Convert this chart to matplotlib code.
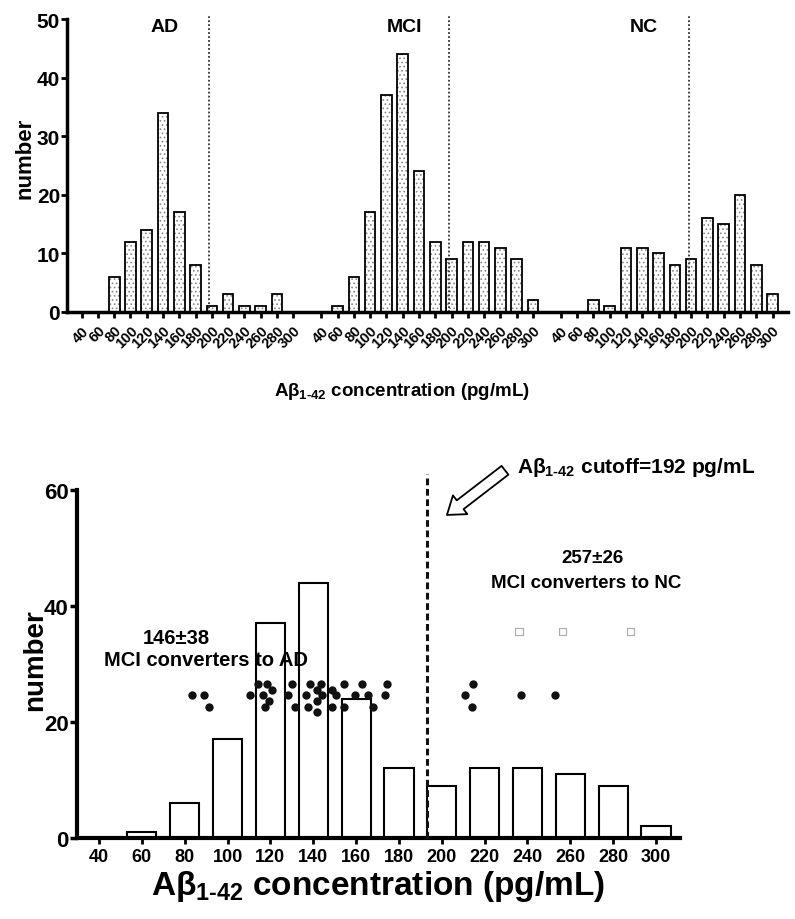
import matplotlib.pyplot as plt
import numpy as np

plt.rcParams.update({
    'font.family': ['Liberation Sans', 'DejaVu Sans'],
    'font.weight': 'bold',
    'mathtext.fontset': 'custom',
    'mathtext.rm': 'Liberation Sans:bold',
    'mathtext.bf': 'Liberation Sans:bold',
    'mathtext.it': 'Liberation Sans:bold',
    'hatch.linewidth': 0.7,
})
narrow = ['Liberation Sans Narrow', 'Liberation Sans', 'DejaVu Sans']

# Abeta 1-42 bins (pg/mL)
conc = [40, 60, 80, 100, 120, 140, 160, 180, 200, 220, 240, 260, 280, 300]
groups = ['AD', 'MCI', 'NC']
ad_counts = [0, 0, 6, 12, 14, 34, 17, 8, 1, 3, 1, 1, 3, 0]
mci_counts = [0, 1, 6, 17, 37, 44, 24, 12, 9, 12, 12, 11, 9, 2]
nc_counts = [0, 0, 2, 1, 11, 11, 10, 8, 9, 16, 15, 20, 8, 3]
top_cutoff = 197
cutoff = 193

# MCI converters to AD (filled dots) and to NC (open squares)
to_ad_x = [83.3, 89.0, 91.5, 110.5, 114.3, 118.3, 116.4, 120.6, 119.5, 117.5,
           129.9, 128.3, 131.5, 138.5, 143.5, 136.6, 141.6, 143.9, 141.6, 137.4,
           141.6, 148.6, 150.6, 148.6, 154.5, 162.6, 159.5, 165.7, 154.5, 167.7,
           174.5, 173.5, 214.7, 210.8, 213.9, 237.0, 252.8]
to_ad_y = [24.7, 24.7, 22.6, 24.7, 26.6, 26.6, 24.7, 25.6, 23.6, 22.6,
           26.6, 24.7, 22.6, 26.6, 26.6, 24.7, 25.6, 24.7, 23.6, 22.6,
           21.7, 25.6, 24.7, 22.6, 26.6, 26.6, 24.7, 24.7, 22.6, 22.6,
           26.6, 24.7, 26.6, 24.7, 22.6, 24.7, 24.7]
to_nc_x = [236.0, 256.2, 288.1]
to_nc_y = [35.6, 35.6, 35.6]

W, H = 795, 920
fig = plt.figure(figsize=(W / 100, H / 100), dpi=100)


def frac(x0, y0, x1, y1):
    return [x0 / W, 1 - y1 / H, (x1 - x0) / W, (y1 - y0) / H]


# ---------------- top panel ----------------
ax1 = fig.add_axes(frac(67, 20, 788, 313))
step = 14.72
slots = np.arange(len(conc))
all_x, all_lab = [], []
for g, (name, counts) in enumerate(zip(groups, [ad_counts, mci_counts, nc_counts])):
    x = g * step + slots
    ax1.bar(x, counts, 0.65, color='white', hatch='....', edgecolor='#8a8a8a', linewidth=0)
    ax1.bar(x, counts, 0.65, fill=False, edgecolor='black', linewidth=1.3)
    ax1.vlines(g * step + (top_cutoff - 40) / 20, 0, 50.6, colors='#333333',
               linestyles=(0, (1, 1.2)), linewidth=1.3, clip_on=False)
    ax1.text(g * step + 5.1, 48.8, name, ha='center', va='center', fontsize=14)
    all_x.extend(x)
    all_lab.extend(str(c) for c in conc)

ax1.set_xlim(-0.9, 2 * step + 13.95)
ax1.set_ylim(0, 50)
ax1.set_xticks(all_x)
ax1.set_xticklabels(all_lab, rotation=45, ha='right', va='top', rotation_mode='anchor', fontsize=10.5)
ax1.set_yticks([0, 10, 20, 30, 40, 50])
ax1.tick_params(axis='y', labelsize=15, length=4, width=2, pad=1)
ax1.tick_params(axis='x', length=4, width=2, pad=4)
for s in ['top', 'right']:
    ax1.spines[s].set_visible(False)
for s in ['left', 'bottom']:
    ax1.spines[s].set_linewidth(2.5)
fig.text(25 / W, 1 - 158 / H, 'number', rotation=90, ha='center', va='center', fontsize=16)
fig.text(402 / W, 1 - 392 / H, r'A$\beta_{1\text{-}42}$ concentration (pg/mL)',
         ha='center', va='center', fontsize=13.5)

# ---------------- bottom panel ----------------
ax2 = fig.add_axes(frac(77, 491, 680, 839))
ax2.bar(conc, mci_counts, 13.6, color='white', edgecolor='black', linewidth=1.5, zorder=2)
ax2.scatter(to_ad_x, to_ad_y, s=36, color='#111111', zorder=3, linewidths=0)
ax2.scatter(to_nc_x, to_nc_y, s=28, marker='s', facecolor='none', edgecolor='#b0b0b0',
            linewidths=0.9, zorder=3)
ax2.vlines(cutoff, 0, 62.8, colors='#111111', linestyles=(0, (2.2, 1.2)), linewidth=2.2,
           clip_on=False, zorder=4)

ax2.set_xlim(29.7, 311.2)
ax2.set_ylim(0, 60)
ax2.set_xticks(conc)
ax2.set_xticklabels([str(c) for c in conc], fontsize=13, family=narrow)
ax2.set_yticks([0, 20, 40, 60])
ax2.tick_params(axis='y', labelsize=16, length=5, width=2.5, pad=1)
ax2.tick_params(axis='x', length=4, width=2, pad=3)
for s in ['top', 'right']:
    ax2.spines[s].set_visible(False)
for s in ['left', 'bottom']:
    ax2.spines[s].set_linewidth(3)

ax2.text(75.9, 34.5, '146±38', ha='center', va='center', fontsize=14.5)
ax2.text(89.9, 30.7, 'MCI converters to AD', ha='center', va='center', fontsize=14.5)
ax2.text(270.5, 48.4, '257±26', ha='center', va='center', fontsize=13.5)
ax2.text(267.3, 44.1, 'MCI converters to NC', ha='center', va='center', fontsize=13.5)
ax2.text(235.1, 64.0, r'A$\beta_{1\text{-}42}$ cutoff=192 pg/mL', ha='left', va='center',
         fontsize=15, clip_on=False)
ax2.annotate('', xy=(202.4, 55.7), xytext=(229.5, 63.4), annotation_clip=False,
             arrowprops=dict(arrowstyle='simple,head_width=0.85,head_length=0.6,tail_width=0.4',
                             fc='white', ec='black', lw=1.3, shrinkA=0, shrinkB=0,
                             mutation_scale=20))

fig.text(35 / W, 1 - 660 / H, 'number', rotation=90, ha='center', va='center', fontsize=20)
fig.text(378 / W, 1 - 887 / H, r'A$\beta_{1\text{-}42}$ concentration (pg/mL)',
         ha='center', va='center', fontsize=24, family=narrow)

fig.savefig('out.png', dpi=100, facecolor='white')
